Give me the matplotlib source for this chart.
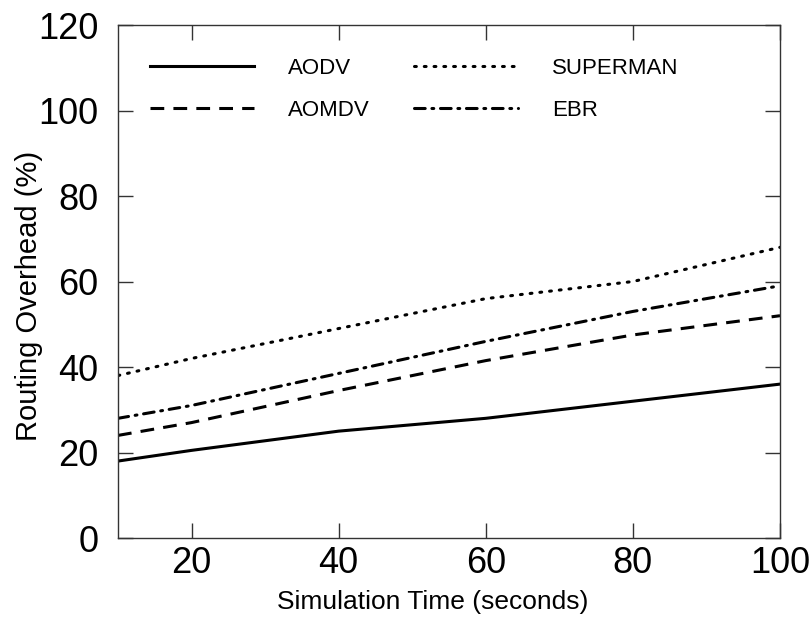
import matplotlib.pyplot as plt

# Simulation time (s)
sim_time = [10, 20, 40, 60, 80, 100]

# Routing overhead (%) per protocol
aodv = [18, 20.5, 25, 28, 32, 36]
aomdv = [24, 27, 34.5, 41.5, 47.5, 52]
superman = [38, 42, 49, 56, 60, 68]
ebr = [28, 31, 38.5, 46, 53, 59]

x_ticks = [20, 40, 60, 80, 100]
y_ticks = [0, 20, 40, 60, 80, 100, 120]

plt.rcParams["font.family"] = ["Liberation Sans", "DejaVu Sans"]

fig = plt.figure(figsize=(8.12, 6.24), dpi=100)
ax = fig.add_axes([0.1453, 0.1378, 0.8153, 0.8221])

lw = 2.2
ax.plot(sim_time, aodv, color="black", lw=lw, linestyle="-", label="AODV")
ax.plot(sim_time, aomdv, color="black", lw=lw, linestyle=(0, (4.5, 3)), label="AOMDV")
ax.plot(sim_time, superman, color="black", lw=lw, linestyle=(0, (0.6, 2.6)),
        dash_capstyle="round", label="SUPERMAN")
ax.plot(sim_time, ebr, color="black", lw=lw, linestyle=(0, (3.5, 2.2, 0.6, 2.2)),
        dash_capstyle="round", label="EBR")

ax.set_xlim(10, 100)
ax.set_ylim(0, 120)
ax.set_xticks(x_ticks)
ax.set_yticks(y_ticks)

# inward ticks on all four sides
ax.tick_params(axis="both", direction="in", length=11, width=1, top=True, right=True,
               labelsize=26, colors="#333333", labelcolor="black")
ax.tick_params(axis="x", pad=6)
ax.tick_params(axis="y", pad=14)
for s in ax.spines.values():
    s.set_linewidth(1.0)
    s.set_color("#333333")

ax.set_xlabel("Simulation Time (seconds)", fontsize=19, labelpad=6)
ax.set_ylabel("Routing Overhead (%)", fontsize=21)
ax.xaxis.label.set_x(0.476)
ax.yaxis.set_label_coords(-0.113, 0.472)

ax.legend(ncol=2, frameon=False, fontsize=16, loc="upper left",
          bbox_to_anchor=(0.018, 0.975), handlelength=4.7, handletextpad=1.5,
          columnspacing=2.0, labelspacing=0.95)

fig.savefig("out.png", dpi=100)
